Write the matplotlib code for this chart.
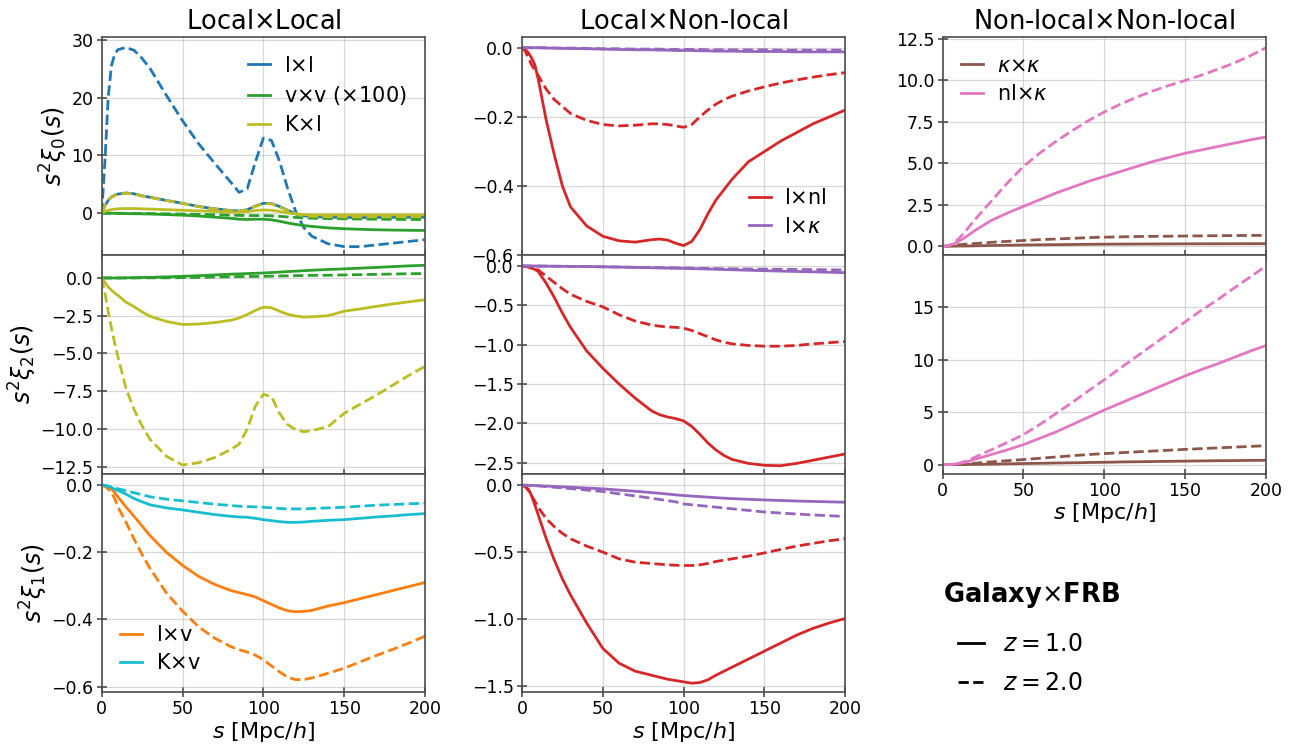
import numpy as np
import matplotlib
matplotlib.use('Agg')
import matplotlib.pyplot as plt
from matplotlib.lines import Line2D
from matplotlib.ticker import MultipleLocator

# s grid (Mpc/h) shared by all curves
s = [0, 2, 4, 6, 8, 10, 15, 20, 25, 30, 40, 50, 60, 70, 80, 85, 90, 95, 100,
     105, 110, 115, 120, 125, 130, 140, 150, 160, 170, 180, 190, 200]

# ---- Local x Local, monopole ----
ll0_z1 = [0, 1.3, 2.2, 2.8, 3.1, 3.3, 3.5, 3.35, 3.0, 2.75, 2.2, 1.7, 1.15, 0.75, 0.45, 0.35,
          0.6, 1.2, 1.7, 1.65, 1.15, 0.5, -0.1, -0.45, -0.6, -0.7, -0.75, -0.75, -0.74, -0.72, -0.71, -0.7]
ll0_z2 = [0, 9.0, 20.0, 25.5, 27.5, 28.3, 28.7, 28.2, 26.8, 25.0, 20.4, 16.0, 12.0, 8.6, 5.3, 3.6,
          4.2, 8.8, 13.0, 12.6, 9.0, 4.3, 0.3, -2.5, -4.0, -5.3, -5.8, -5.8, -5.5, -5.2, -4.9, -4.6]
vv0_z1 = [0, 0, -0.01, -0.02, -0.03, -0.05, -0.08, -0.1, -0.12, -0.15, -0.25, -0.35, -0.5, -0.7, -0.9, -1.05,
          -1.1, -1.05, -1.05, -1.15, -1.4, -1.7, -1.95, -2.15, -2.3, -2.55, -2.7, -2.8, -2.88, -2.93, -2.97, -3.0]
vv0_z2 = [0, 0, 0, -0.01, -0.01, -0.02, -0.03, -0.05, -0.07, -0.08, -0.12, -0.16, -0.2, -0.27, -0.35, -0.39,
          -0.42, -0.42, -0.42, -0.47, -0.55, -0.65, -0.75, -0.82, -0.88, -0.94, -0.98, -1.02, -1.05, -1.07, -1.09, -1.1]
Kl0_z1 = [0, 0.3, 0.5, 0.6, 0.7, 0.75, 0.8, 0.8, 0.75, 0.7, 0.6, 0.5, 0.4, 0.3, 0.2, 0.15,
          0.25, 0.45, 0.55, 0.5, 0.3, 0.05, -0.15, -0.25, -0.3, -0.3, -0.3, -0.3, -0.3, -0.3, -0.3, -0.3]
Kl0_z2 = [0, 1.25, 2.15, 2.75, 3.05, 3.25, 3.45, 3.3, 2.98, 2.72, 2.18, 1.68, 1.13, 0.73, 0.43, 0.33,
          0.58, 1.15, 1.65, 1.6, 1.1, 0.45, -0.1, -0.42, -0.55, -0.62, -0.65, -0.65, -0.64, -0.63, -0.62, -0.6]

# ---- Local x Local, quadrupole ----
vv2_z1 = [0, 0, 0, 0, 0, 0, 0.01, 0.02, 0.03, 0.04, 0.07, 0.11, 0.15, 0.2, 0.25, 0.27,
          0.29, 0.31, 0.33, 0.36, 0.39, 0.42, 0.45, 0.48, 0.51, 0.56, 0.6, 0.65, 0.7, 0.75, 0.8, 0.84]
vv2_z2 = [0, 0, 0, 0, 0, 0, 0, 0, 0.01, 0.01, 0.01, 0.02, 0.04, 0.06, 0.08, 0.09,
          0.1, 0.1, 0.11, 0.12, 0.13, 0.14, 0.15, 0.16, 0.17, 0.18, 0.2, 0.22, 0.24, 0.26, 0.28, 0.29]
Kl2_z1 = [0, -0.3, -0.6, -0.8, -1.0, -1.15, -1.6, -1.9, -2.25, -2.54, -2.88, -3.08, -3.05, -2.95, -2.8, -2.65,
          -2.42, -2.15, -1.93, -1.97, -2.2, -2.4, -2.52, -2.59, -2.57, -2.5, -2.2, -2.05, -1.88, -1.72, -1.58, -1.44]
Kl2_z2 = [0, -1.0, -2.2, -3.3, -4.3, -5.2, -7.3, -8.7, -9.8, -10.7, -11.8, -12.38, -12.23, -11.88, -11.35, -11.0,
          -10.0, -8.5, -7.7, -7.85, -8.96, -9.7, -10.05, -10.18, -10.1, -9.85, -8.96, -8.35, -7.75, -7.1, -6.45, -5.85]

# ---- Local x Local, dipole ----
lv1_z1 = [0, -0.002, -0.006, -0.011, -0.022, -0.035, -0.065, -0.093, -0.122, -0.151, -0.2, -0.239, -0.272, -0.296, -0.314, -0.32,
          -0.326, -0.333, -0.344, -0.355, -0.366, -0.374, -0.377, -0.376, -0.373, -0.36, -0.35, -0.338, -0.326, -0.314, -0.302, -0.29]
lv1_z2 = [0, -0.004, -0.012, -0.022, -0.04, -0.065, -0.11, -0.161, -0.207, -0.249, -0.321, -0.375, -0.422, -0.456, -0.481, -0.49,
          -0.497, -0.506, -0.52, -0.538, -0.556, -0.572, -0.579, -0.579, -0.574, -0.56, -0.545, -0.526, -0.507, -0.489, -0.47, -0.45]
Kv1_z1 = [0, -0.002, -0.004, -0.008, -0.012, -0.016, -0.027, -0.04, -0.05, -0.059, -0.068, -0.074, -0.081, -0.088, -0.093, -0.095,
          -0.096, -0.099, -0.103, -0.106, -0.109, -0.111, -0.111, -0.11, -0.108, -0.105, -0.103, -0.099, -0.095, -0.092, -0.088, -0.085]
Kv1_z2 = [0, -0.001, -0.003, -0.006, -0.009, -0.011, -0.017, -0.023, -0.029, -0.035, -0.042, -0.047, -0.052, -0.057, -0.061, -0.063,
          -0.064, -0.065, -0.066, -0.068, -0.07, -0.071, -0.071, -0.071, -0.07, -0.068, -0.066, -0.063, -0.06, -0.058, -0.056, -0.054]

# ---- Local x Non-local ----
lnl0_z1 = [0, -0.005, -0.015, -0.03, -0.05, -0.09, -0.21, -0.31, -0.4, -0.46, -0.515, -0.545, -0.558, -0.562, -0.555, -0.553,
           -0.556, -0.565, -0.572, -0.56, -0.526, -0.48, -0.44, -0.41, -0.38, -0.33, -0.3, -0.27, -0.245, -0.22, -0.2, -0.18]
lnl0_z2 = [0, -0.01, -0.03, -0.05, -0.065, -0.08, -0.12, -0.15, -0.17, -0.19, -0.21, -0.222, -0.226, -0.224, -0.22, -0.22,
           -0.222, -0.226, -0.23, -0.222, -0.2, -0.18, -0.163, -0.15, -0.14, -0.125, -0.113, -0.102, -0.093, -0.085, -0.078, -0.072]
lk0_z1 = [0, 0, 0, 0, 0, 0, -0.001, -0.001, -0.002, -0.002, -0.003, -0.004, -0.005, -0.006, -0.006, -0.007,
          -0.007, -0.008, -0.008, -0.008, -0.009, -0.009, -0.01, -0.01, -0.01, -0.011, -0.011, -0.011, -0.012, -0.012, -0.012, -0.012]
lk0_z2 = [0, 0, 0, 0, 0, 0, 0, -0.001, -0.001, -0.001, -0.002, -0.003, -0.003, -0.004, -0.004, -0.004,
          -0.005, -0.005, -0.005, -0.005, -0.005, -0.006, -0.006, -0.006, -0.006, -0.006, -0.006, -0.007, -0.007, -0.007, -0.007, -0.007]

lnl2_z1 = [0, -0.003, -0.01, -0.025, -0.045, -0.07, -0.22, -0.4, -0.6, -0.78, -1.08, -1.3, -1.5, -1.68, -1.84, -1.89,
           -1.92, -1.94, -1.97, -2.04, -2.14, -2.25, -2.34, -2.41, -2.46, -2.51, -2.535, -2.54, -2.51, -2.47, -2.43, -2.39]
lnl2_z2 = [0, -0.005, -0.015, -0.03, -0.04, -0.05, -0.13, -0.21, -0.29, -0.36, -0.45, -0.52, -0.62, -0.7, -0.75, -0.765,
           -0.775, -0.78, -0.79, -0.82, -0.86, -0.9, -0.94, -0.97, -0.99, -1.01, -1.02, -1.02, -1.01, -0.99, -0.975, -0.96]
lk2_z1 = [0, 0, 0, 0, 0, -0.001, -0.002, -0.003, -0.004, -0.005, -0.007, -0.01, -0.014, -0.018, -0.023, -0.025,
          -0.027, -0.029, -0.03, -0.033, -0.036, -0.039, -0.042, -0.045, -0.048, -0.054, -0.06, -0.065, -0.07, -0.075, -0.08, -0.085]
lk2_z2 = [0, 0, 0, 0, 0, -0.001, -0.002, -0.003, -0.004, -0.005, -0.007, -0.01, -0.013, -0.016, -0.02, -0.021,
          -0.022, -0.024, -0.025, -0.027, -0.029, -0.031, -0.033, -0.035, -0.036, -0.038, -0.04, -0.042, -0.044, -0.046, -0.048, -0.05]

lnl1_z1 = [0, -0.01, -0.03, -0.08, -0.15, -0.22, -0.4, -0.56, -0.7, -0.82, -1.03, -1.22, -1.33, -1.39, -1.42, -1.435,
           -1.45, -1.46, -1.47, -1.48, -1.475, -1.455, -1.42, -1.39, -1.36, -1.3, -1.24, -1.18, -1.12, -1.07, -1.03, -0.996]
lnl1_z2 = [0, -0.01, -0.04, -0.08, -0.12, -0.165, -0.25, -0.31, -0.36, -0.4, -0.455, -0.5, -0.55, -0.575, -0.585, -0.59,
           -0.595, -0.598, -0.6, -0.6, -0.595, -0.585, -0.57, -0.56, -0.55, -0.53, -0.506, -0.48, -0.455, -0.435, -0.415, -0.4]
lk1_z1 = [0, 0, -0.001, -0.001, -0.002, -0.003, -0.006, -0.009, -0.012, -0.015, -0.021, -0.027, -0.036, -0.045, -0.055, -0.06,
          -0.066, -0.072, -0.077, -0.081, -0.085, -0.089, -0.093, -0.097, -0.1, -0.105, -0.11, -0.114, -0.118, -0.121, -0.124, -0.127]
lk1_z2 = [0, 0, -0.001, -0.002, -0.003, -0.005, -0.01, -0.015, -0.02, -0.025, -0.036, -0.047, -0.064, -0.08, -0.097, -0.106,
          -0.115, -0.124, -0.14, -0.146, -0.152, -0.158, -0.164, -0.17, -0.176, -0.188, -0.2, -0.208, -0.215, -0.222, -0.228, -0.234]

# ---- Non-local x Non-local ----
kk0_z1 = [0, 0, 0.01, 0.01, 0.01, 0.02, 0.02, 0.03, 0.04, 0.05, 0.065, 0.08, 0.09, 0.1, 0.11, 0.115,
          0.12, 0.125, 0.13, 0.132, 0.134, 0.136, 0.138, 0.14, 0.142, 0.146, 0.15, 0.152, 0.154, 0.156, 0.158, 0.16]
kk0_z2 = [0, 0.02, 0.03, 0.05, 0.07, 0.09, 0.14, 0.17, 0.2, 0.24, 0.3, 0.35, 0.4, 0.44, 0.48, 0.5,
          0.52, 0.54, 0.55, 0.56, 0.57, 0.58, 0.59, 0.595, 0.6, 0.61, 0.62, 0.63, 0.64, 0.65, 0.655, 0.66]
nlk0_z1 = [0, 0.0, 0.05, 0.1, 0.2, 0.3, 0.6, 0.95, 1.25, 1.55, 2.0, 2.4, 2.8, 3.2, 3.55, 3.72,
           3.9, 4.05, 4.2, 4.35, 4.5, 4.65, 4.8, 4.95, 5.1, 5.35, 5.6, 5.8, 6.0, 6.2, 6.4, 6.58]
nlk0_z2 = [0, 0.0, 0.05, 0.15, 0.3, 0.45, 1.0, 1.6, 2.15, 2.7, 3.8, 4.8, 5.6, 6.3, 6.95, 7.25,
           7.55, 7.82, 8.08, 8.32, 8.55, 8.76, 8.97, 9.16, 9.35, 9.68, 9.98, 10.3, 10.65, 11.02, 11.45, 11.95]

kk2_z1 = [0, 0, 0, 0, 0, 0, 0.01, 0.02, 0.03, 0.04, 0.07, 0.1, 0.12, 0.15, 0.17, 0.18,
          0.2, 0.21, 0.22, 0.23, 0.25, 0.26, 0.27, 0.28, 0.29, 0.31, 0.33, 0.35, 0.37, 0.38, 0.4, 0.41]
kk2_z2 = [0, 0, 0, 0.01, 0.02, 0.03, 0.07, 0.12, 0.2, 0.26, 0.37, 0.48, 0.6, 0.72, 0.84, 0.9,
          0.95, 1.0, 1.05, 1.09, 1.13, 1.17, 1.21, 1.25, 1.29, 1.37, 1.45, 1.52, 1.59, 1.66, 1.73, 1.8]
nlk2_z1 = [0, 0, 0, 0.02, 0.05, 0.1, 0.25, 0.5, 0.72, 0.95, 1.4, 1.9, 2.5, 3.1, 3.8, 4.15,
           4.5, 4.85, 5.2, 5.52, 5.85, 6.18, 6.5, 6.82, 7.15, 7.8, 8.45, 9.05, 9.6, 10.2, 10.8, 11.35]
nlk2_z2 = [0, 0, 0, 0.02, 0.06, 0.12, 0.35, 0.7, 1.05, 1.4, 2.1, 2.85, 3.8, 4.85, 5.9, 6.45,
           7.0, 7.55, 8.08, 8.64, 9.2, 9.75, 10.3, 10.85, 11.4, 12.5, 13.6, 14.7, 15.7, 16.8, 17.85, 18.93]

W, H = 1299, 750
fig = plt.figure(figsize=(W / 100, H / 100), dpi=100)
plt.rcParams['mathtext.fontset'] = 'dejavusans'

col_x = [101.7, 522.0, 942.5]
row_y = [37.0, 255.3, 473.6]
aw, ah = 323.3, 218.3
lw = 2
tick_fs, lab_fs, ylab_fs, leg_fs, title_fs = 12.5, 16, 17, 15, 18.5


def make_ax(c, r):
    ax = fig.add_axes([col_x[c] / W, 1 - (row_y[r] + ah) / H, aw / W, ah / H])
    ax.set_xlim(0, 200)
    ax.xaxis.set_major_locator(MultipleLocator(50))
    ax.grid(True, color='#b0b0b0', alpha=0.5, lw=0.9)
    ax.tick_params(direction='inout', length=7, width=1.1, labelsize=tick_fs,
                   colors='0.25', labelcolor='k', pad=2.5)
    for sp in ax.spines.values():
        sp.set_color('0.3')
        sp.set_linewidth(1.2)
    return ax


def pair(ax, z1, z2, color, label=None):
    ax.plot(s, z1, '-', color=color, lw=lw, label=label)
    ax.plot(s, z2, '--', color=color, lw=lw)


def key(ax, loc):
    ax.legend(loc=loc, frameon=False, fontsize=leg_fs, handlelength=1.05, handletextpad=0.65,
              labelspacing=0.4)


# column 1
a = make_ax(0, 0)
pair(a, ll0_z1, ll0_z2, 'C0', r'l$\times$l')
pair(a, vv0_z1, vv0_z2, 'C2', r'v$\times$v ($\times$100)')
pair(a, Kl0_z1, Kl0_z2, 'C8', r'K$\times$l')
a.set_ylim(-7.3, 30.5)
a.yaxis.set_major_locator(MultipleLocator(10))
a.set_ylabel(r'$s^2\xi_0(s)$', fontsize=ylab_fs, labelpad=1)
a.set_title(r'Local$\times$Local', fontsize=title_fs)
key(a, 'upper right')
a.tick_params(labelbottom=False)

a = make_ax(0, 1)
pair(a, vv2_z1, vv2_z2, 'C2')
pair(a, Kl2_z1, Kl2_z2, 'C8')
a.set_ylim(-12.95, 1.5)
a.yaxis.set_major_locator(MultipleLocator(2.5))
a.set_ylabel(r'$s^2\xi_2(s)$', fontsize=ylab_fs, labelpad=1)
a.tick_params(labelbottom=False)

a = make_ax(0, 2)
pair(a, lv1_z1, lv1_z2, 'C1', r'l$\times$v')
pair(a, Kv1_z1, Kv1_z2, 'C9', r'K$\times$v')
a.set_ylim(-0.6155, 0.034)
a.yaxis.set_major_locator(MultipleLocator(0.2))
a.set_ylabel(r'$s^2\xi_1(s)$', fontsize=ylab_fs, labelpad=1)
a.set_xlabel(r'$s$ [Mpc/$h$]', fontsize=lab_fs, labelpad=1)
key(a, 'lower left')

# column 2
a = make_ax(1, 0)
pair(a, lnl0_z1, lnl0_z2, 'C3', r'l$\times$nl')
pair(a, lk0_z1, lk0_z2, 'C4', r'l$\times\kappa$')
a.set_ylim(-0.6, 0.031)
a.yaxis.set_major_locator(MultipleLocator(0.2))
a.set_title(r'Local$\times$Non-local', fontsize=title_fs)
key(a, 'lower right')
a.tick_params(labelbottom=False)

a = make_ax(1, 1)
pair(a, lnl2_z1, lnl2_z2, 'C3')
pair(a, lk2_z1, lk2_z2, 'C4')
a.set_ylim(-2.64, 0.136)
a.yaxis.set_major_locator(MultipleLocator(0.5))
a.tick_params(labelbottom=False)

a = make_ax(1, 2)
pair(a, lnl1_z1, lnl1_z2, 'C3')
pair(a, lk1_z1, lk1_z2, 'C4')
a.set_ylim(-1.545, 0.087)
a.yaxis.set_major_locator(MultipleLocator(0.5))
a.set_xlabel(r'$s$ [Mpc/$h$]', fontsize=lab_fs, labelpad=1)

# column 3
a = make_ax(2, 0)
pair(a, kk0_z1, kk0_z2, 'C5', r'$\kappa$$\times$$\kappa$')
pair(a, nlk0_z1, nlk0_z2, 'C6', r'nl$\times\kappa$')
a.set_ylim(-0.54, 12.6)
a.yaxis.set_major_locator(MultipleLocator(2.5))
a.set_title(r'Non-local$\times$Non-local', fontsize=title_fs)
key(a, 'upper left')
a.tick_params(labelbottom=False)

a = make_ax(2, 1)
pair(a, kk2_z1, kk2_z2, 'C5')
pair(a, nlk2_z1, nlk2_z2, 'C6')
a.set_ylim(-0.86, 19.96)
a.yaxis.set_major_locator(MultipleLocator(5))
a.set_xlabel(r'$s$ [Mpc/$h$]', fontsize=lab_fs, labelpad=1)

# redshift key
fig.text(943 / W, 1 - 595 / H, r'Galaxy$\times$FRB', fontsize=18.5, fontweight='bold',
         va='center', ha='left')
handles = [Line2D([], [], color='k', lw=2, ls='-'), Line2D([], [], color='k', lw=2, ls='--')]
fig.legend(handles, [r'$z = 1.0$', r'$z = 2.0$'], loc='upper left',
           bbox_to_anchor=(937 / W, 1 - 611 / H), frameon=False, fontsize=17,
           handlelength=1.1, handletextpad=0.8, labelspacing=0.62)

fig.savefig('out.png', dpi=100)
